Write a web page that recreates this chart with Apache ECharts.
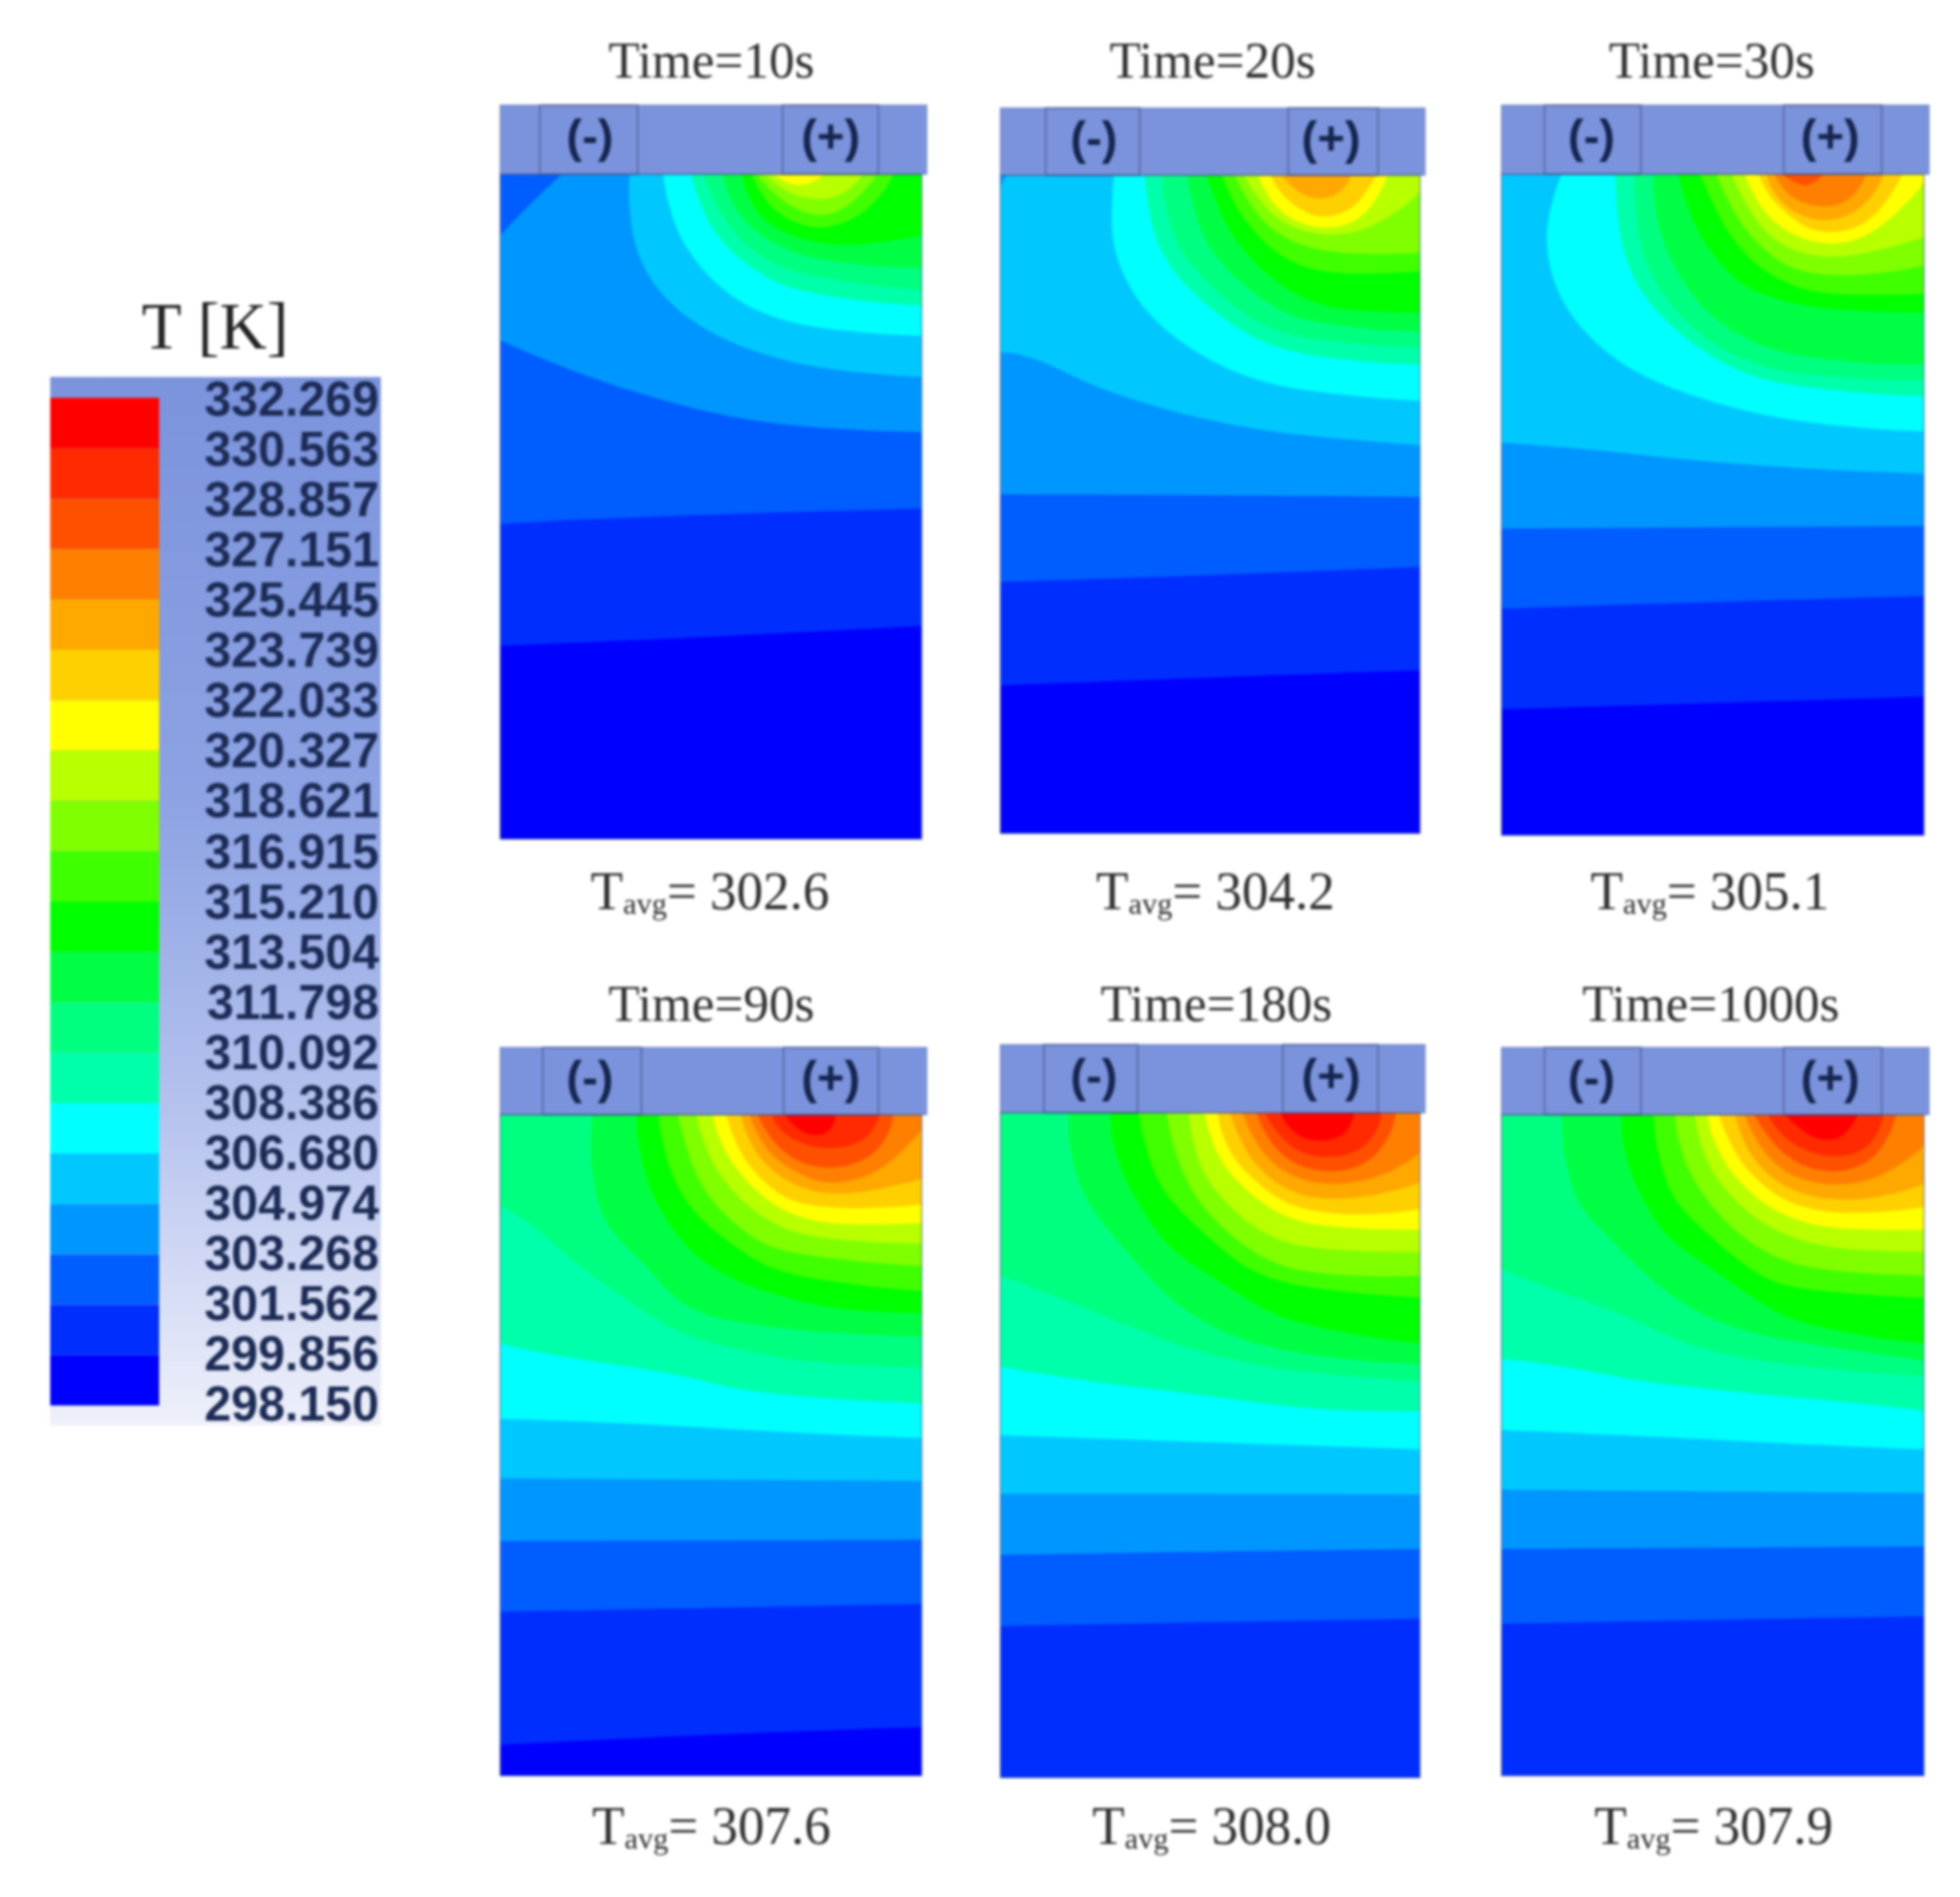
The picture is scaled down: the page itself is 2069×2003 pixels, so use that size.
<!DOCTYPE html>
<html>
<head>
<meta charset="utf-8">
<style>html,body{margin:0;padding:0;background:#fff}#chart{width:2069px;height:2003px;filter:blur(1.5px)}</style>
<script src="https://cdn.jsdelivr.net/npm/echarts@6/dist/echarts.min.js"></script>
</head>
<body>
<div id="chart"></div>
<script>
// Colour scale: tick labels (bottom to top) and one colour per band between them
const legendLabels = ['298.150','299.856','301.562','303.268','304.974','306.680','308.386','310.092','311.798','313.504','315.210','316.915','318.621','320.327','322.033','323.739','325.445','327.151','328.857','330.563','332.269'];
const bandColors = ['#0000ff','#002eff','#005dff','#0096ff','#00c8ff','#00ffff','#00ffaa','#00ff80','#00ff44','#00ff00','#40ff00','#80ff00','#b8ff00','#ffff00','#ffd000','#ffa800','#ff8000','#ff5000','#ff2a00','#ff0000'];

const panelTimes = ['Time=10s','Time=20s','Time=30s','Time=90s','Time=180s','Time=1000s'];
const panelAverages = ['302.6','304.2','305.1','307.6','308.0','307.9'];
// Lowest band filling each panel
const baseBands = [0,0,0,0,1,1];

// Isotherms: [band, x,depth, x,depth, ...] with x and depth in % of the domain; each is the lower edge of that band
const contours10s = [
 [1, 0,70.9, 50,69.6, 100,67.9],
 [2, 0,52.6, 36,51.4, 100,50.3],
 [3, 0,25, 18.4,30, 37,33.7, 56,36.8, 78,38.3, 100,38.8],
 [2, 0,9.2, 7,4.5, 14.6,0],
 [4, 30.7,0, 30.7,7.7, 34.2,14.5, 40.8,19.8, 52,24.7, 67,28, 82,29.7, 100,30.5],
 [5, 38.6,0, 40.8,7, 45.3,12.2, 52.7,17.5, 63.3,21.3, 78,23.5, 100,24.3],
 [6, 45.3,0, 48.3,6.2, 54.3,11.5, 63.3,15.6, 74.5,18.3, 100,19.8],
 [7, 48.3,0, 50.6,3.9, 55.8,9.2, 63.3,13, 74.5,15.6, 100,17.5],
 [8, 52.8,0, 55,4.7, 60.3,8.5, 67,11.1, 78.3,13.4, 100,14.1],
 [9, 57.3,0, 59.6,4.7, 64.8,8.1, 74.5,10.3, 85.8,10.7, 100,9.2],
 [10, 59.6,0, 61.8,2.8, 65.5,5.8, 73,8.1, 80.5,7.7, 88.8,4.7, 93.3,0],
 [11, 61,0, 64,2.4, 69.3,5, 75.3,6.3, 81.3,5.4, 86.5,2.4, 89.5,0],
 [12, 63,0, 66.3,2, 71.5,3.5, 78.3,3.8, 83.5,2, 85.8,0],
 [13, 64.8,0, 68,1.3, 71,1.7, 74.5,1.2, 76.8,0]
];
const contours20s = [
 [1, 0,77.5, 50,76.3, 100,75.2],
 [2, 0,61.8, 50,60.8, 100,59.5],
 [3, 0,48.5, 50,48.6, 100,48.9],
 [4, 0,26.9, 8.4,27.6, 18.2,31, 32.5,34.3, 46,36.7, 61,38.6, 76,39.8, 100,41],
 [3, 0,1.7, 1.5,0],
 [5, 27,0, 26.5,6, 27,11.3, 31,17.5, 38.5,23.3, 49.8,28.1, 61,31.2, 76,33.1, 100,34.3],
 [6, 34.4,0, 35.5,6.5, 38.5,11.8, 43,16.1, 50.5,20.4, 61,25.2, 76,27.8, 100,28.8],
 [7, 38.5,0, 40,7.4, 43.8,12.2, 49,16.1, 61,22.8, 76,25.2, 100,26.2],
 [8, 44.5,0, 46,5, 49,10.3, 55,15.1, 64.8,20, 76,22.8, 100,23.8],
 [9, 49,0, 52,5, 55.8,9.8, 62.6,14.6, 72.3,19, 83.6,20.6, 100,20.9],
 [10, 52.8,0, 55.8,4.6, 60.3,8.4, 65.6,11.8, 73,14.2, 83.6,15.1, 100,14.6],
 [11, 55.8,0, 59.5,4.6, 64.8,8.4, 72.3,10.8, 80.6,11.8, 91,12, 100,11.8],
 [12, 58,0, 62.6,4.6, 67.8,7.4, 75.3,9, 83.6,8.9, 92.6,6.5, 100,2.6],
 [13, 61.4,0, 64,3.6, 68.6,6.5, 76,8.2, 83.6,7.4, 88.9,4.6, 92.3,0],
 [14, 64.4,0, 67,3.1, 72.3,5.5, 76.8,6.5, 82.9,5.5, 86.6,3.1, 89.6,0],
 [15, 67,0, 70.8,2.6, 76,3.8, 81.4,2.6, 83.6,0]
];
const contours30s = [
 [1, 0,80.9, 50,80, 100,79],
 [2, 0,65.7, 50,64.7, 100,63.8],
 [3, 0,53.6, 50,53.4, 100,53.2],
 [4, 0,40.6, 15,41.3, 30,42.2, 58,44.1, 100,45.3],
 [5, 14.2,0, 11.2,5.6, 10.5,11.9, 14.2,19.5, 21.7,25.2, 31.4,30, 44.8,33.4, 59.8,36.2, 78.4,38.1, 100,38.9],
 [6, 26.9,0, 27.3,5.6, 29.1,12.8, 35.1,20, 46.3,26.2, 56.8,30, 71,32.4, 100,33.6],
 [7, 31.4,0, 32.1,9, 35.9,16.2, 44.8,23.3, 56.8,28.1, 71.7,30.5, 100,31.2],
 [8, 35.9,0, 36.6,7.6, 41.8,15.2, 48.6,21, 57.5,24.8, 71.7,28.1, 100,28.8],
 [9, 41.8,0, 44.8,6.6, 50,12.3, 57.5,17.1, 64.2,18.5, 74.7,20.5, 100,20.9],
 [10, 47,0, 50.8,5.6, 55.3,10.4, 62,14.7, 71.7,17.6, 82.2,18.3, 100,18.1],
 [11, 50.8,0, 54.5,5.2, 59,9.5, 65,12.8, 71.7,15, 86,15.4, 100,13.8],
 [12, 54.5,0, 57.5,4.2, 62,8.5, 67.2,10.9, 74.7,12.6, 86,12.1, 100,9.5],
 [13, 57.5,0, 60.5,4.2, 65,7.6, 71,9.7, 78.4,10.7, 86,9.5, 93.4,6.1, 100,1.3],
 [14, 60.9,0, 63.5,3.7, 68,6.1, 71.7,8, 78.4,9, 86,7.6, 91.1,4.2, 94.9,0],
 [15, 62.7,0, 65,3.7, 71,6.4, 77.7,7.1, 84.4,5.6, 88.9,2.3, 90.4,0],
 [16, 64.6,0, 67.2,2.8, 71.7,4.5, 78.4,5, 83.7,3.3, 86.3,0],
 [17, 66.5,0, 69.5,1.3, 72.8,1.9, 76.2,0]
];
const contours90s = [
 [1, 0,95.3, 48,93.8, 100,92.6],
 [2, 0,75.2, 50,74.6, 100,74],
 [3, 0,64.5, 50,64.4, 100,64.3],
 [4, 0,55, 50,55.2, 100,55.4],
 [5, 0,46, 36.8,46.8, 64.5,48, 100,48.9],
 [6, 0,34.6, 14.3,36.7, 36.8,38.6, 50.3,40.6, 65.2,42.5, 100,43.7],
 [7, 0,13.8, 6.8,16.2, 14.3,20.5, 21.8,24.3, 29.3,27.7, 40.5,32.4, 50.3,34.6, 65.2,36.7, 81.7,37.9, 100,38.2],
 [8, 21.8,0, 21.8,13.3, 29.3,19.5, 36.8,24.3, 44.3,29.6, 57.8,31.5, 74.2,32.9, 100,33.6],
 [9, 32.3,0, 33,6.2, 36.8,13.3, 42,18.1, 47.3,22, 57.8,25.7, 70.5,28.1, 81.7,29.6, 100,30],
 [10, 37.5,0, 39,6.2, 42.8,11.9, 48,16.2, 57,20.5, 64.5,23.4, 78,25.3, 100,26.7],
 [11, 42,0, 44.3,5.2, 47.3,10.5, 53.3,15.2, 60.8,19, 71.2,21.4, 100,22.9],
 [12, 46.5,0, 48.8,5.2, 52.5,9.5, 58.5,13.8, 66.7,17.1, 78,19, 100,19.5],
 [13, 50.3,0, 52.5,4.7, 57,9, 63.7,13.3, 72,15.7, 81.7,16.7, 100,16.4],
 [14, 53.6,0, 56.3,5.2, 60.8,9, 66.7,12.4, 74.2,13.8, 85.5,14.3, 100,13.6],
 [15, 57,0, 59.2,4.3, 63.7,8.1, 70.5,10.9, 78.7,12.1, 89.2,11.4, 100,9.7],
 [16, 59.2,0, 61.5,3.8, 66,7.1, 72.7,9.5, 78.7,10.5, 87.7,9.3, 94.4,6.2, 100,2.3],
 [17, 61.1,0, 63.7,3.3, 69,6.6, 75.7,8.1, 84.7,7.6, 91.4,4.3, 93.3,0],
 [18, 64.5,0, 66,2.3, 71.2,4.3, 77.2,5.2, 84.7,4.5, 88.5,2.3, 90,0],
 [19, 67.5,0, 70.5,2.3, 75,3.3, 78.7,2.3, 79.5,0]
];
const contours180s = [
 [2, 0,77.2, 50,76.6, 100,76.1],
 [3, 0,66.5, 50,66, 100,65.6],
 [4, 0,57.3, 50,57.3, 100,57.4],
 [5, 0,48.5, 75.7,50.1, 100,50.6],
 [6, 0,38.2, 17.8,40.1, 32.9,41.3, 61.4,43.5, 75.7,44.7, 100,44.9],
 [7, 0,24.5, 17.8,28.7, 35.9,33.5, 47.1,35.9, 61.4,38, 75.7,39.2, 100,40.4],
 [8, 16.3,0, 17,8.8, 23.8,16.4, 32.1,22.1, 38.9,27.3, 50.9,32.5, 61.4,34.7, 75.7,36.8, 100,37.8],
 [9, 26.1,0, 27.6,7.8, 33.6,14, 37.4,18.3, 44.9,22.6, 53.9,25.9, 61.4,29.2, 75,32.5, 100,34.7],
 [10, 32.9,0, 35.1,6.4, 38.9,12.1, 46.4,16.9, 54.7,21.6, 62.2,24.5, 75,26.6, 100,27.8],
 [11, 39.6,0, 41.1,5, 45.6,12.1, 52.4,16.9, 61.4,21.6, 75,24.5, 100,24.5],
 [12, 44.9,0, 46.4,6.4, 50.9,11.6, 57,15.4, 64.4,18.8, 76.5,20.7, 100,20.9],
 [13, 48.7,0, 50.9,5.5, 55.4,9.7, 62.2,13.5, 69,15.9, 78.7,17.3, 100,17.6],
 [14, 51.7,0, 53.9,5.5, 59.2,9.3, 66,13, 73.5,14.7, 86.2,15.5, 100,14.5],
 [15, 54.7,0, 57.7,5, 62.2,8.8, 69,11.9, 78,13.1, 90,12.4, 100,10.5],
 [16, 57.7,0, 60.7,4.5, 66,8.3, 73.5,10.5, 82.5,10.7, 92.3,9.3, 100,6],
 [17, 61,0, 63.7,4, 69,7.4, 75.7,8.8, 84,8.6, 91.5,5.5, 94.3,0],
 [18, 63,0, 66,3.1, 71.2,6, 77.2,6.7, 84,6.2, 89.3,3.6, 90.8,0],
 [19, 66.7,0, 69.7,3.1, 75,4.3, 81,3.8, 83.6,1.7, 84.4,0]
];
const contours1000s = [
 [2, 0,77, 50,76.4, 100,75.9],
 [3, 0,65.7, 50,65.5, 100,65.3],
 [4, 0,56.7, 50,57, 100,57.2],
 [5, 0,47.7, 37.4,48.7, 78.4,50.1, 100,50.6],
 [6, 0,37, 14.2,37.9, 29.9,40.1, 46.3,41.3, 64.2,42.5, 85.9,43.7, 100,44.8],
 [7, 0,23.4, 14.9,27.2, 28.4,30, 42.6,34.6, 56.8,36.7, 71.7,38.2, 100,39.6],
 [8, 14.2,0, 15.7,10.9, 21.7,16.2, 29.1,21, 35.9,25.3, 46.3,30, 58.3,32.9, 71.7,34.6, 100,37.2],
 [9, 28.4,0, 29.1,7.1, 35.9,15.7, 41.8,20, 52.3,24.3, 62.7,29.1, 74.7,32.4, 100,34.6],
 [10, 35.9,0, 38.1,10, 44,15.2, 52.3,20, 62,24.8, 73.2,26.7, 100,27.7],
 [11, 41,0, 42.6,6.2, 47.8,12.4, 56,18.1, 65.7,21.9, 78.4,23.8, 100,24.3],
 [12, 45.6,0, 47.8,6.2, 52.3,10.9, 59.8,15.7, 70.2,19, 82.2,20.5, 100,20.7],
 [13, 48.6,0, 50.8,5.2, 56,10, 62.7,13.8, 71,16.2, 80.7,17.4, 100,17.4],
 [14, 51.5,0, 54.5,5.2, 59.8,9.5, 66.5,12.9, 74.7,14.5, 85.9,15, 100,14],
 [15, 55.3,0, 57.5,4.7, 62.7,9, 69.5,11.7, 78.4,12.9, 89.6,12.6, 100,10.5],
 [16, 57.5,0, 60.5,4.3, 65.7,8.1, 72.5,10.2, 82.2,10.7, 91.9,8.8, 100,4.7],
 [17, 59.8,0, 63.5,3.8, 68.7,6.9, 75.4,8.6, 83.7,8.3, 90.4,5.2, 93.4,0],
 [18, 63.1,0, 65.7,2.8, 71,5.2, 77.7,6.4, 84.4,5.9, 88.9,3.3, 90.4,0],
 [19, 67.2,0, 71.7,2.8, 76.9,4, 81.4,3.1, 84,0.4, 84.3,0]
];
const panelContours = [contours10s,contours20s,contours30s,contours90s,contours180s,contours1000s];

// Electrode tabs: (-) from, to, label; (+) from, to, label; x in % of the domain
const electrodes = [
 [9.4,32.6,21.3, 67,89.7,78.4],
 [10.8,33.2,22.3, 68.6,90,78.8],
 [10.2,33,21.3, 66.8,90,77.8],
 [10.1,33.5,21.3, 67.2,89.7,78.4],
 [10.4,32.7,22.3, 67.3,90,78.8],
 [10.2,33,21.3, 66.8,90,77.8]
];

// Layout in page pixels: contour rectangle and the housing strip height above it
const L = [
 {x:528,w:445,t:184,b:886,h:73,tx:751,ax:749.5,ty:68,ay:945},
 {x:1056,w:443,t:185,b:880,h:71,tx:1280,ax:1283,ty:68,ay:945},
 {x:1585,w:446,t:184,b:882,h:73,tx:1807,ax:1805,ty:68,ay:945},
 {x:528,w:445,t:1177,b:1875,h:71,tx:751,ax:751,ty:1064,ay:1932},
 {x:1056,w:443,t:1175,b:1877,h:72,tx:1284,ax:1279,ty:1064,ay:1932},
 {x:1585,w:446,t:1177,b:1875,h:71,tx:1806,ax:1809,ty:1064,ay:1932}
];

const SERIF = '"Liberation Serif", serif';
const SANS = '"Liberation Sans", Arial, sans-serif';

function smooth(flat){
  const p=[]; for(let i=0;i<flat.length;i+=2)p.push([flat[i],flat[i+1]]);
  if(p.length<3) return p;
  const out=[p[0]];
  for(let i=0;i<p.length-1;i++){
    const a=p[Math.max(i-1,0)],b=p[i],c=p[i+1],d=p[Math.min(i+2,p.length-1)];
    for(let k=1;k<=10;k++){
      const t=k/10,t2=t*t,t3=t2*t;
      const f=(j)=>0.5*(2*b[j]+(c[j]-a[j])*t+(2*a[j]-5*b[j]+4*c[j]-d[j])*t2+(3*b[j]-a[j]-3*c[j]+d[j])*t3);
      out.push([Math.min(100,Math.max(0,f(0))),Math.min(100,Math.max(0,f(1)))]);
    }
  }
  // moving average removes the small kinks left by hand-read points
  return out.map((q,i)=>{
    const w=Math.min(i,out.length-1-i,7);
    let sx=0,sy=0;
    for(let j=i-w;j<=i+w;j++){sx+=out[j][0];sy+=out[j][1];}
    return [sx/(2*w+1),sy/(2*w+1)];
  });
}
function region(row){
  const flat=row.slice(1), pts=smooth(flat);
  const first=pts[0], last=pts[pts.length-1];
  if(last[0]>=99.9 && last[1]>0) pts.push([100,0]);
  if(first[0]<=0.1 && first[1]>0) pts.push([0,0]);
  return pts;
}

const grids=[],xAxes=[],yAxes=[],series=[],titles=[];
L.forEach((r,i)=>{
  const top=-r.h/((r.b-r.t)/100);
  grids.push({left:r.x,width:r.w,top:r.t-r.h,height:r.b-r.t+r.h,containLabel:false});
  xAxes.push({type:'value',gridIndex:i,min:0,max:100,show:false});
  yAxes.push({type:'value',gridIndex:i,min:top,max:100,inverse:true,show:false});
  const rows=panelContours[i];
  series.push({
    type:'custom',name:panelTimes[i],coordinateSystem:'cartesian2d',xAxisIndex:i,yAxisIndex:i,silent:true,clip:false,
    data:[[baseBands[i]]].concat(rows.map(c=>[c[0]])),
    renderItem(params,api){
      const k=params.dataIndex;
      const pts=k===0?[[0,0],[100,0],[100,100],[0,100]]:region(rows[k-1]);
      return {type:'polygon',shape:{points:pts.map(q=>api.coord(q))},style:{fill:bandColors[api.value(0)]}};
    }
  });
  const e=electrodes[i];
  series.push({
    type:'custom',name:panelTimes[i]+' housing',coordinateSystem:'cartesian2d',xAxisIndex:i,yAxisIndex:i,silent:true,clip:false,
    data:[[0]],
    renderItem(params,api){
      const rect=(x0,y0,x1,y1,style)=>{
        const a=api.coord([x0,y0]),b=api.coord([x1,y1]);
        return {type:'rect',shape:{x:a[0],y:a[1],width:b[0]-a[0],height:b[1]-a[1]},style};
      };
      const label=(x,t)=>{
        const a=api.coord([x,top*0.5]);
        return {type:'text',x:a[0],y:a[1],style:{text:t,font:'bold 50px '+SANS,fill:'#15254f',align:'center',verticalAlign:'middle'}};
      };
      const box={fill:'transparent',stroke:'rgba(60,75,125,0.5)',lineWidth:2};
      return {type:'group',children:[
        rect(0,top,101.2,0,{fill:'#7b93dc',stroke:'rgba(90,110,165,0.5)',lineWidth:1.5}),
        rect(0,0,100,100,{fill:'transparent',stroke:'rgba(70,90,150,0.6)',lineWidth:1.5}),
        rect(e[0],top,e[1],0,box),
        rect(e[3],top,e[4],0,box),
        label(e[2],'(-)'),
        label(e[5],'(+)')
      ]};
    }
  });
  titles.push({text:panelTimes[i],left:r.tx,top:r.ty,textAlign:'center',textVerticalAlign:'middle',padding:0,
    textStyle:{fontFamily:SERIF,fontSize:54,fontWeight:'normal',color:'#2e2e2e'}});
  titles.push({text:'{t|T}{s|avg}{n|= '+panelAverages[i]+'}',left:r.ax,top:r.ay,textAlign:'center',textVerticalAlign:'middle',padding:0,
    textStyle:{fontFamily:SERIF,fontSize:55,fontWeight:'normal',color:'#2e2e2e',
      rich:{t:{fontFamily:SERIF,fontSize:56,color:'#2e2e2e'},s:{fontFamily:SERIF,fontSize:32,color:'#2e2e2e',verticalAlign:'bottom'},n:{fontFamily:SERIF,fontSize:56,color:'#2e2e2e'}}}});
});

// Colour scale: one grid for the bands, one for the tick labels beside them
const li=L.length;
grids.push({left:53,width:115,top:420,height:1064});
xAxes.push({type:'value',gridIndex:li,min:0,max:1,show:false});
yAxes.push({type:'value',gridIndex:li,min:0,max:20,show:false});
grids.push({left:170,width:230,top:425,height:1061});
xAxes.push({type:'value',gridIndex:li+1,min:0,max:1,show:false});
yAxes.push({type:'category',gridIndex:li+1,data:legendLabels,boundaryGap:false,position:'right',
  axisLine:{show:false},axisTick:{show:false},splitLine:{show:false},
  axisLabel:{inside:true,margin:0,interval:0,fontFamily:SANS,fontSize:51,fontWeight:'bold',color:'#1c2b55',align:'right'}});
series.push({
  type:'custom',name:'T [K]',coordinateSystem:'cartesian2d',xAxisIndex:li,yAxisIndex:li,silent:true,clip:false,
  data:bandColors.map((c,k)=>[k]),
  renderItem(params,api){
    const k=params.dataIndex;
    const a=api.coord([0,k+1]),b=api.coord([1,k]);
    return {type:'rect',shape:{x:a[0],y:a[1],width:b[0]-a[0],height:b[1]-a[1]},style:{fill:bandColors[k]}};
  }
});
titles.push({text:'T [K]',left:227,top:350,textAlign:'center',textVerticalAlign:'middle',padding:0,
  textStyle:{fontFamily:SERIF,fontSize:69,fontWeight:'normal',color:'#222'}});

const chart=echarts.init(document.getElementById('chart'),null,{renderer:'canvas'});
chart.setOption({
  animation:false,backgroundColor:'#ffffff',
  title:titles,grid:grids,xAxis:xAxes,yAxis:yAxes,series,
  graphic:[{type:'rect',silent:true,z:0,shape:{x:53,y:398,width:349,height:1107},
    style:{fill:new echarts.graphic.LinearGradient(0,0,0,1,[
      {offset:0,color:'#7b93dc'},{offset:0.4,color:'#8ca2e3'},{offset:0.7,color:'#b5c2ee'},{offset:1,color:'#eef0fa'}])}}]
});
</script>
</body>
</html>
